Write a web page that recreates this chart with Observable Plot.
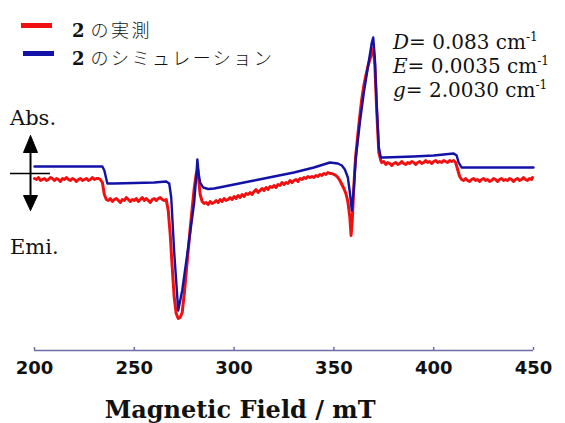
<!DOCTYPE html>
<html>
<head>
<meta charset="utf-8">
<script src="https://cdn.jsdelivr.net/npm/d3@7"></script>
<script src="https://cdn.jsdelivr.net/npm/@observablehq/plot@0.6"></script>
<style>
  html, body { margin: 0; padding: 0; background: #fff; }
  #wrap { position: relative; width: 565px; height: 423px; overflow: hidden; }
  #wrap svg { position: absolute; left: 0; top: 0; }
  .ov { position: absolute; white-space: nowrap; line-height: 24px; color: #111; }
  .serif { font-family: "DejaVu Serif", serif; }
  .jp { font-family: "Noto Sans CJK JP", sans-serif; font-weight: 300; font-size: 18px; }
  .sw { position: absolute; height: 5px; }
</style>
</head>
<body>
<div id="wrap"></div>
<script>
// ---- data (field in mT, signal in arbitrary units) ----
const seriesNames = ["2 の実測", "2 のシミュレーション"];
const seriesColors = ["#f01010", "#1212a6"];

const expField = [
  200,201,202,203,204,205,206,207,208,209,210,211,212,213,214,215,216,217,218,219,220,221,222,223,224,225,226,227,228,229,230,231,232,233,234,
  235,236,
  237,238,239,240,241,242,243,244,245,246,247,248,249,250,251,252,253,254,255,256,257,258,259,260,261,262,263,264,265,266,
  267,268,269,270,271,272,273,274,275,276,277,278,279,280,281,281.8,282.4,283,284,285,
  286,287,288,289,290,291,292,293,294,295,296,297,298,299,300,301,302,303,304,305,306,307,308,309,310,
  311,312,313,314,315,316,317,318,319,320,321,322,323,324,325,326,327,328,329,330,
  331,332,333,334,335,336,337,338,339,340,341,342,343,344,345,346,347,348,349,350,
  351,352,353,354,355,356,357,358,358.6,359.2,359.8,360.5,361,362,363,364,365,366,367,368,369,369.7,370.5,371.5,372.5,373.5,
  374,375,376,377,378,379,380,381,382,383,384,385,386,387,388,389,390,391,392,393,394,395,396,397,398,399,400,
  401,402,403,404,405,406,407,408,409,410,411,412,413,414,
  415,416,417,418,419,420,421,422,423,424,425,426,427,428,429,430,431,432,433,434,435,436,437,438,439,440,
  441,442,443,444,445,446,447,448,449,449.5
];
const expSignal = [
  -6,-7,-5,-8,-7,-6,-8,-7,-5,-6,-8,-6,-7,-9,-6,-7,-5,-7,-8,-6,-7,-9,-7,-6,-8,-7,-6,-8,-7,-5,-7,-6,-6,-7,-10,
  -22,-27,
  -28,-26,-29,-27,-26,-28,-30,-27,-28,-25,-27,-29,-27,-28,-26,-29,-27,-25,-28,-26,-28,-30,-27,-26,-28,-26,-25,-27,-28,-27,
  -38,-62,-95,-125,-141,-146,-145,-140,-122,-100,-78,-56,-36,-16,-2,3,-10,-22,-29,-31,
  -30,-32,-29,-31,-30,-28,-30,-27,-29,-26,-28,-27,-25,-27,-24,-26,-23,-25,-22,-24,-21,-22,-20,-22,-19,
  -17,-20,-18,-16,-18,-15,-17,-14,-15,-13,-15,-12,-13,-10,-12,-10,-11,-8,-10,-8,
  -7,-9,-6,-7,-5,-6,-4,-5,-4,-5,-3,-4,-2,-3,-1,-2,0,-1,-1,-2,
  -3,-5,-8,-12,-16,-21,-29,-45,-63,-48,-22,5,18,38,57,74,87,97,106,113,120,124,108,60,20,12,
  10,11,8,10,9,7,9,10,8,9,11,9,8,10,9,11,10,8,10,11,9,10,12,10,11,9,11,
  12,10,11,10,12,11,10,12,11,12,10,3,-4,-7,
  -8,-6,-8,-9,-7,-6,-8,-7,-9,-7,-6,-8,-7,-9,-8,-6,-7,-9,-7,-6,-8,-7,-8,-6,-7,-9,
  -7,-6,-8,-7,-5,-7,-8,-6,-7,-5
];

const simField = [200,234,235,236.5,240,250,260,266,267.5,268.5,270,272,274,277,280,281,281.6,282.3,283,284.5,287,290,300,310,320,330,340,348,352,354,355.5,357,358,359,360,361,363,365,367,369,369.7,370.5,371.5,372.5,373.5,375,390,400,410,411.5,412.5,414,450];
const simSignal = [6,6,2,-11,-11,-10.5,-10,-9,-11,-25,-80,-138,-118,-75,-30,-5,13,-2,-10,-15,-16.5,-16,-12,-8,-4,0,5,10,9,7,3,-5,-20,-38,-15,15,50,80,105,130,135,115,65,25,15,15,16,17,19,17,10,5,5];

const xTicks = [200, 250, 300, 350, 400, 450];
const xLabel = "Magnetic Field / mT";

// annotation arrow (double-headed, Abs./Emi.)
const arrowX = 198;
const arrowStem = [-30, 30];
const arrowHeads = [
  {x: [198, 194.5, 201.5, 198], y: [37, 20, 20, 37]},
  {x: [198, 194.5, 201.5, 198], y: [-38, -23, -23, -38]}
];
const zeroMark = {x1: 188, x2: 208, y: -1};

// ---- build tables ----
const exp = expField.map((f, i) => ({field: f, signal: expSignal[i]}));
const sim = simField.map((f, i) => ({field: f, signal: simSignal[i]}));
const headPts = arrowHeads.flatMap((h, k) => h.x.map((x, i) => ({x, y: h.y[i], k})));

const yBottom = -178;
const chart = Plot.plot({
  width: 565,
  height: 423,
  marginLeft: 34,
  marginRight: 32,
  marginTop: 0,
  marginBottom: 73,
  x: {domain: [200, 450], axis: null},
  y: {domain: [yBottom, 172], axis: null},
  style: {background: "transparent", overflow: "visible"},
  marks: [
    Plot.ruleY([yBottom], {stroke: "#6c6ca6", strokeWidth: 1.5}),
    Plot.ruleX(xTicks, {x: d => d, y1: yBottom, y2: yBottom + 3, stroke: "#6c6ca6", strokeWidth: 1.5}),
    Plot.axisX({ticks: xTicks, tickSize: 0, tickPadding: 11, fontSize: 18, fontWeight: "bold",
      fontFamily: "DejaVu Sans, sans-serif", fill: "#111", tickFormat: d => String(d)}),
    Plot.text([xLabel], {x: 303, y: -238, text: d => d, fontSize: 24, fontWeight: "bold",
      fontFamily: "DejaVu Serif, serif", fill: "#111"}),
    // annotation arrow
    Plot.ruleX([arrowX], {x: d => d, y1: arrowStem[0], y2: arrowStem[1], stroke: "#000", strokeWidth: 2, clip: false}),
    Plot.line(headPts, {x: "x", y: "y", z: "k", fill: "#000", stroke: "#000", strokeWidth: 1}),
    Plot.ruleY([zeroMark], {x1: "x1", x2: "x2", y: "y", stroke: "#000", strokeWidth: 1.5}),
    // data
    Plot.line(exp, {x: "field", y: "signal", stroke: seriesColors[0], strokeWidth: 3, curve: "linear"}),
    Plot.line(sim, {x: "field", y: "signal", stroke: seriesColors[1], strokeWidth: 2.4, curve: "linear"})
  ]
});

const wrap = document.getElementById("wrap");
wrap.appendChild(chart);

function addDiv(html, cls, left, top, extra) {
  const d = document.createElement("div");
  d.className = cls;
  d.style.left = left + "px";
  d.style.top = top + "px";
  if (extra) Object.assign(d.style, extra);
  d.innerHTML = html;
  wrap.appendChild(d);
  return d;
}
// legend
addDiv("", "sw", 21, 23, {width: "31px", background: seriesColors[0]});
addDiv("", "sw", 23, 51, {width: "31px", background: seriesColors[1]});
seriesNames.forEach((name, i) => {
  const [num, rest] = [name.split(" ")[0], name.slice(name.indexOf(" ") + 1)];
  addDiv('<b class="serif" style="font-size:18px">' + num + '</b><span class="jp" style="margin-left:6px;letter-spacing:2.5px">' + rest + '</span>',
    "ov", 72, 17 + i * 28);
});
// parameters
const params = [["D", "0.083"], ["E", "0.0035"], ["g", "2.0030"]];
params.forEach(([s, v], i) => {
  addDiv('<i>' + s + '</i>= ' + v + ' cm<sup style="font-size:12px;vertical-align:8px">-1</sup>',
    "ov serif", 393, 25 + i * 24, {fontSize: "20px"});
});
addDiv("Abs.", "ov serif", 10, 106, {fontSize: "21px"});
addDiv("Emi.", "ov serif", 10, 235, {fontSize: "21px"});
</script>
</body>
</html>
